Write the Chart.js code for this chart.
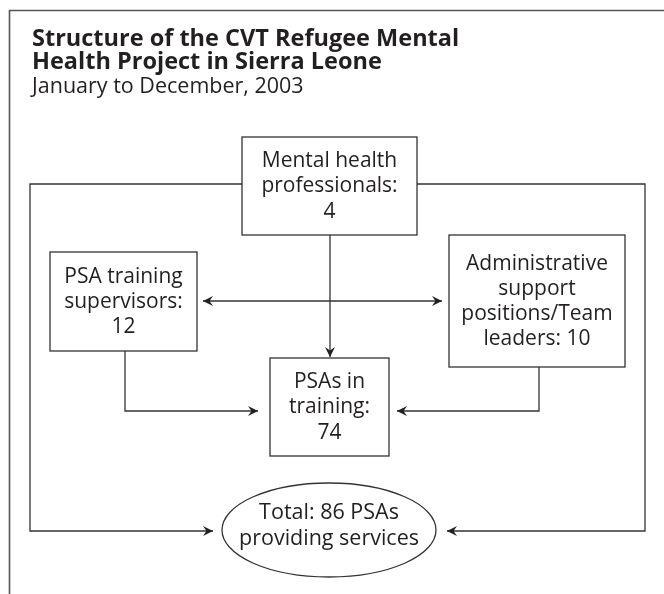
<!DOCTYPE html>
<html>
<head>
<meta charset="utf-8">
<script src="https://cdn.jsdelivr.net/npm/chart.js@4.4.1/dist/chart.umd.min.js"></script>
<style>
  html, body { margin: 0; padding: 0; background: #fff; }
  canvas { display: block; }
</style>
</head>
<body>
<canvas id="flow" width="664" height="594"></canvas>
<script>
// ---- data ----
const titleLines = ["Structure of the CVT Refugee Mental", "Health Project in Sierra Leone"];
const subtitle = "January to December, 2003";
const roles = ["Mental health professionals", "PSA training supervisors",
  "Administrative support positions/Team leaders", "PSAs in training"];
const counts = [4, 12, 10, 74];
const totalPSAs = 86;

// line breaks for each box ({n} gets the head count)
const roleLines = [
  ["Mental health", "professionals:", "{n}"],
  ["PSA training", "supervisors:", "{n}"],
  ["Administrative", "support", "positions/Team", "leaders: {n}"],
  ["PSAs in", "training:", "{n}"]
];
const totalLines = ["Total: {n} PSAs", "providing services"];

// ---- layout (plot units, y grows downward) ----
const layout = {
  boxes: [
    { x: 329.5, y: 186, w: 175, h: 98 },  // mental health professionals
    { x: 123.5, y: 301.5, w: 147, h: 99 }, // supervisors
    { x: 537, y: 301, w: 176, h: 132 },    // admin / team leaders
    { x: 329.5, y: 407, w: 119, h: 98 }    // PSAs in training
  ],
  total: { x: 329, y: 530, rx: 107, ry: 47 },
  loop: { top: 184, left: 30, right: 645 },
  frame: { left: 9.5, top: 10.5 },
  lowY: 411
};

const INK = '#231f20';
const LINE = '#333';
const FONT = '"Open Sans", Roboto, sans-serif';

const points = layout.boxes.map((b, i) => ({ x: b.x, y: b.y, label: roles[i], n: counts[i] }));
points.push({ x: layout.total.x, y: layout.total.y, label: 'Total PSAs', n: totalPSAs });

const flowPlugin = {
  id: 'flow',
  afterDatasetsDraw(chart) {
    const ctx = chart.ctx;
    const sx = chart.scales.x, sy = chart.scales.y;
    const px = v => sx.getPixelForValue(v);
    const py = v => sy.getPixelForValue(v);
    const meta = chart.getDatasetMeta(0).data;

    ctx.save();

    // frame (left + top edge)
    ctx.strokeStyle = '#555';
    ctx.lineWidth = 1.6;
    ctx.beginPath();
    ctx.moveTo(px(layout.frame.left), py(594));
    ctx.lineTo(px(layout.frame.left), py(layout.frame.top));
    ctx.lineTo(px(664), py(layout.frame.top));
    ctx.stroke();

    ctx.strokeStyle = LINE;
    ctx.fillStyle = INK;
    ctx.lineWidth = 1.3;

    // title + subtitle
    ctx.textAlign = 'left';
    ctx.textBaseline = 'alphabetic';
    ctx.font = 'bold 23.5px ' + FONT;
    ctx.fillText(titleLines[0], px(32), py(45.5));
    ctx.fillText(titleLines[1], px(32), py(69));
    ctx.font = '21.5px ' + FONT;
    ctx.fillText(subtitle, px(32), py(92.5));

    const poly = pts => {
      ctx.beginPath();
      ctx.moveTo(px(pts[0][0]), py(pts[0][1]));
      for (let i = 1; i < pts.length; i++) ctx.lineTo(px(pts[i][0]), py(pts[i][1]));
      ctx.stroke();
    };
    const head = (fx, fy, tx, ty) => {
      const x1 = px(fx), y1 = py(fy), x2 = px(tx), y2 = py(ty);
      const a = Math.atan2(y2 - y1, x2 - x1);
      const L = 10, W = 5, N = 6.5;
      ctx.beginPath();
      ctx.moveTo(x2, y2);
      ctx.lineTo(x2 - L * Math.cos(a) + W * Math.sin(a), y2 - L * Math.sin(a) - W * Math.cos(a));
      ctx.lineTo(x2 - N * Math.cos(a), y2 - N * Math.sin(a));
      ctx.lineTo(x2 - L * Math.cos(a) - W * Math.sin(a), y2 - L * Math.sin(a) + W * Math.cos(a));
      ctx.closePath();
      ctx.fill();
    };
    const arrow = pts => {
      poly(pts);
      const n = pts.length;
      head(pts[n - 2][0], pts[n - 2][1], pts[n - 1][0], pts[n - 1][1]);
    };

    const B = layout.boxes, T = layout.total, L = layout.loop;
    const edge = (b, side) => side === 'l' ? b.x - b.w / 2 : side === 'r' ? b.x + b.w / 2
      : side === 't' ? b.y - b.h / 2 : b.y + b.h / 2;

    // connectors
    arrow([[edge(B[0], 'l'), L.top], [L.left, L.top], [L.left, T.y + 1], [T.x - T.rx - 9, T.y + 1]]);
    arrow([[edge(B[0], 'r'), L.top], [L.right, L.top], [L.right, T.y + 1], [T.x + T.rx + 11, T.y + 1]]);
    arrow([[B[0].x + 0.5, edge(B[0], 'b')], [B[0].x + 0.5, edge(B[3], 't') - 1]]);
    const midY = 301;
    poly([[edge(B[1], 'r') + 6, midY], [edge(B[2], 'l') - 7, midY]]);
    head(B[2].x, midY, edge(B[1], 'r') + 6, midY);
    head(B[1].x, midY, edge(B[2], 'l') - 7, midY);
    arrow([[B[1].x + 1.5, edge(B[1], 'b')], [B[1].x + 1.5, layout.lowY], [edge(B[3], 'l') - 12, layout.lowY]]);
    arrow([[B[2].x + 2, edge(B[2], 'b')], [B[2].x + 2, layout.lowY], [edge(B[3], 'r') + 8, layout.lowY]]);

    // boxes + labels
    ctx.font = '21px ' + FONT;
    ctx.textAlign = 'center';
    ctx.textBaseline = 'middle';
    B.forEach((b, i) => {
      const cx = meta[i].x, cy = meta[i].y;
      const w = px(b.x + b.w / 2) - px(b.x - b.w / 2);
      const h = py(b.y + b.h / 2) - py(b.y - b.h / 2);
      ctx.fillStyle = '#fff';
      ctx.fillRect(cx - w / 2, cy - h / 2, w, h);
      ctx.strokeRect(cx - w / 2, cy - h / 2, w, h);
      ctx.fillStyle = INK;
      const lines = roleLines[i].map(s => s.replace('{n}', counts[i]));
      const step = 25.2;
      lines.forEach((s, k) => {
        ctx.fillText(s, cx, cy + (k - (lines.length - 1) / 2) * step + 0.5);
      });
    });

    // total ellipse
    const te = meta[4];
    ctx.beginPath();
    ctx.ellipse(te.x, te.y, px(T.x + T.rx) - px(T.x), py(T.y + T.ry) - py(T.y), 0, 0, Math.PI * 2);
    ctx.fillStyle = '#fff';
    ctx.fill();
    ctx.stroke();
    ctx.fillStyle = INK;
    ctx.font = '21.5px ' + FONT;
    totalLines.map(s => s.replace('{n}', totalPSAs)).forEach((s, k) => {
      ctx.fillText(s, te.x, te.y + (k - 0.5) * 26 - 4.5);
    });
    ctx.restore();
  }
};

new Chart(document.getElementById('flow'), {
  type: 'scatter',
  data: {
    datasets: [{
      label: 'Staff',
      data: points,
      pointRadius: 0,
      pointHoverRadius: 0
    }]
  },
  options: {
    responsive: false,
    animation: false,
    layout: { padding: 0 },
    scales: {
      x: { type: 'linear', min: 0, max: 664, display: false },
      y: { type: 'linear', min: 0, max: 594, reverse: true, display: false }
    },
    plugins: {
      legend: { display: false },
      tooltip: { enabled: false },
      title: { display: false }
    }
  },
  plugins: [flowPlugin]
});
</script>
</body>
</html>
